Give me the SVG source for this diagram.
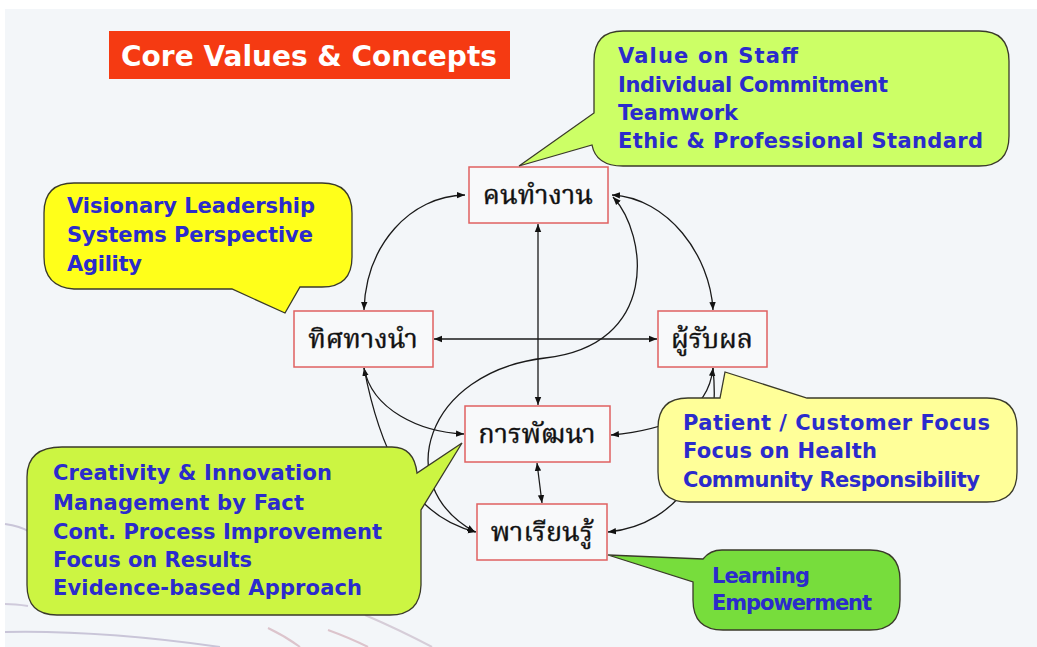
<svg xmlns="http://www.w3.org/2000/svg" width="1037" height="647" viewBox="0 0 1037 647">
<defs>
<style>
.bg{fill:#f3f6f9}
.node rect{fill:#f8f9fa;stroke:#e06060;stroke-width:1.5}
.node text{font-family:"Noto Serif Thai","Noto Sans Thai","Loma","Garuda","Norasi",serif;font-size:27px;fill:#111;text-anchor:middle;stroke:#111;stroke-width:0.4}
.call path{stroke:#3a3a2a;stroke-width:1.3}
.call text{font-family:"DejaVu Sans","Verdana",sans-serif;font-weight:bold;font-size:21px;fill:#2b2bcc}
.conn path{fill:none;stroke:#1a1a1a;stroke-width:1.3}
.deco path{fill:none;stroke-width:2}
</style>
<marker id="ah" viewBox="0 0 10 10" refX="10" refY="5" markerWidth="8" markerHeight="8" markerUnits="userSpaceOnUse" orient="auto-start-reverse">
<path d="M0,1 L10,5 L0,9 Z" fill="#111"/>
</marker>
</defs>
<rect x="0" y="0" width="1037" height="647" fill="#ffffff"/>
<rect class="bg" x="5" y="9" width="1032" height="638"/>
<g class="deco">
<path d="M5,524 Q20,526 30,532" stroke="#c9c5d8"/>
<path d="M5,604 Q15,604 28,606" stroke="#cfcadb"/>
<path d="M5,632 Q100,630 220,647" stroke="#c9c5d8"/>
<path d="M268,628 Q285,636 300,647" stroke="#dcc4cc"/>
<path d="M328,630 Q350,638 368,647" stroke="#dcc4cc"/>
<path d="M365,615 Q400,630 432,647" stroke="#d6cdd8"/>
</g>
<g id="title">
<rect x="109" y="31" width="401" height="48" fill="#f53a12"/>
<text x="309" y="66" font-family="DejaVu Sans, Verdana, sans-serif" font-weight="bold" font-size="28" fill="#ffffff" text-anchor="middle">Core Values &amp; Concepts</text>
</g>
<g class="conn" id="connectors">
<path d="M465,195 C410,196 366,245 364,310" marker-start="url(#ah)" marker-end="url(#ah)"/>
<path d="M612,195 C668,198 710,255 713,310" marker-start="url(#ah)" marker-end="url(#ah)"/>
<path d="M538,224 L538,405" marker-start="url(#ah)" marker-end="url(#ah)"/>
<path d="M434,339 L657,339" marker-start="url(#ah)" marker-end="url(#ah)"/>
<path d="M613,197 C648,235 660,345 545,358 C425,372 390,485 475,532" marker-start="url(#ah)" marker-end="url(#ah)"/>
<path d="M364,368 C372,410 420,432 464,434" marker-start="url(#ah)" marker-end="url(#ah)"/>
<path d="M364,368 C378,440 405,515 476,532" marker-end="url(#ah)"/>
<path d="M713,368 C708,415 665,430 611,435" marker-start="url(#ah)" marker-end="url(#ah)"/>
<path d="M713,368 C722,460 680,525 608,532" marker-end="url(#ah)"/>
<path d="M537,463 L542,503" marker-start="url(#ah)" marker-end="url(#ah)"/>
</g>
<g class="node" id="n-khon"><rect x="469" y="167" width="139" height="56"/><text x="538" y="204">คนทำงาน</text></g>
<g class="node" id="n-thit"><rect x="294" y="311" width="139" height="56"/><text x="363" y="348">ทิศทางนำ</text></g>
<g class="node" id="n-phu"><rect x="658" y="311" width="109" height="56"/><text x="712" y="348">ผู้รับผล</text></g>
<g class="node" id="n-kan"><rect x="465" y="406" width="145" height="56"/><text x="537" y="443">การพัฒนา</text></g>
<g class="node" id="n-pha"><rect x="477" y="504" width="130" height="56"/><text x="542" y="541">พาเรียนรู้</text></g>
<g class="call" id="c-staff">
<path d="M623,31 H979 Q1009,31 1009,61 V136 Q1009,166 979,166 H623 Q596,166 592,145 L519,166 L594,113 V61 Q594,31 623,31 Z" fill="#ccff66"/>
<text x="618" y="63" textLength="180" lengthAdjust="spacing">Value on Staff</text>
<text x="618" y="92" textLength="270" lengthAdjust="spacing">Individual Commitment</text>
<text x="618" y="120" textLength="120" lengthAdjust="spacing">Teamwork</text>
<text x="618" y="148" textLength="365" lengthAdjust="spacing">Ethic &amp; Professional Standard</text>
</g>
<g class="call" id="c-lead">
<path d="M74,183 H322 Q352,183 352,213 V257 Q352,287 322,287 H300 L285,313 L232,289 H74 Q44,287 44,257 V213 Q44,183 74,183 Z" fill="#ffff1a"/>
<text x="67" y="213" textLength="248" lengthAdjust="spacing">Visionary Leadership</text>
<text x="67" y="242" textLength="246" lengthAdjust="spacing">Systems Perspective</text>
<text x="67" y="271" textLength="75" lengthAdjust="spacing">Agility</text>
</g>
<g class="call" id="c-inno">
<path d="M62,447 H392 Q414,447 417,473 L462,443 L421,510 V585 Q420,615 390,615 H57 Q27,615 27,585 V477 Q27,447 62,447 Z" fill="#ccf542"/>
<text x="53" y="480" textLength="279" lengthAdjust="spacing">Creativity &amp; Innovation</text>
<text x="53" y="510" textLength="251" lengthAdjust="spacing">Management by Fact</text>
<text x="53" y="539" textLength="329" lengthAdjust="spacing">Cont. Process Improvement</text>
<text x="53" y="567" textLength="199" lengthAdjust="spacing">Focus on Results</text>
<text x="53" y="595" textLength="309" lengthAdjust="spacing">Evidence-based Approach</text>
</g>
<g class="call" id="c-cust">
<path d="M688,398 H720 L725,372 L807,398 H987 Q1017,398 1017,428 V472 Q1017,502 987,502 H688 Q658,502 658,472 V428 Q658,398 688,398 Z" fill="#ffff99"/>
<text x="683" y="430" textLength="307" lengthAdjust="spacing">Patient / Customer Focus</text>
<text x="683" y="458" textLength="194" lengthAdjust="spacing">Focus on Health</text>
<text x="683" y="487" textLength="297" lengthAdjust="spacing">Community Responsibility</text>
</g>
<g class="call" id="c-learn">
<path d="M722,550 H870 Q900,550 900,580 V600 Q900,630 870,630 H723 Q693,630 693,600 V582 L608,555 L703,559 Q710,550 722,550 Z" fill="#77dd3c"/>
<text x="712" y="583" textLength="98" lengthAdjust="spacing">Learning</text>
<text x="712" y="610" textLength="160" lengthAdjust="spacing">Empowerment</text>
</g>
</svg>
